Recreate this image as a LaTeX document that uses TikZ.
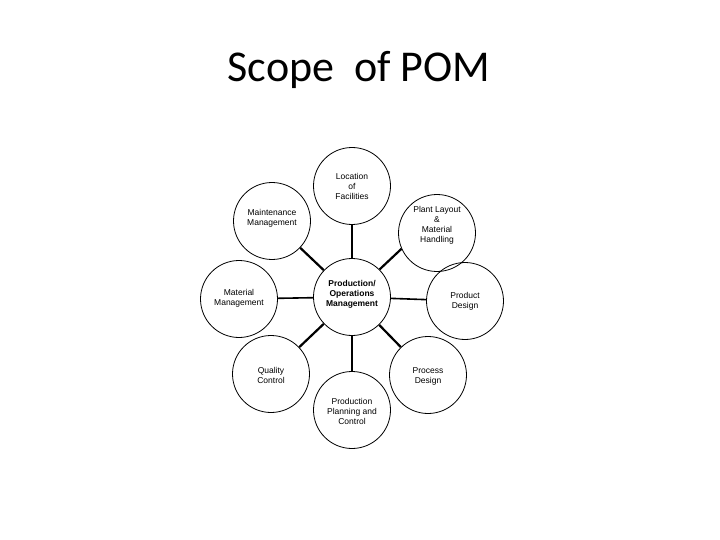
\documentclass[tikz,border=0pt]{standalone}
\usepackage{fontspec}
\setmainfont{Carlito}
\newfontfamily\arialf{Liberation Sans}
\begin{document}
\begin{tikzpicture}[x=1pt,y=-1pt,
  bub/.style={circle,draw=black,line width=0.8pt,minimum size=77pt,inner sep=0pt},
  txt/.style={align=center,font=\arialf\fontsize{8.5}{10}\selectfont,inner sep=0pt},
  btxt/.style={txt,font=\arialf\bfseries\fontsize{8.5}{10}\selectfont},
  conn/.style={line width=1.6pt},
  dconn/.style={line width=2.2pt}]
\useasboundingbox (0,0) rectangle (720,540);
\node[anchor=base,font=\fontsize{44}{50}\selectfont,inner sep=0pt] (title) at (359,82) {Scope\ \ of POM};
% circles
\node[bub] (c)   at (352,297) {};
\node[bub] (loc) at (352,186) {};
\node[bub] (pl)  at (437,233) {};
\node[bub] (pd)  at (465,301) {};
\node[bub] (prd) at (428,375) {};
\node[bub] (ppc) at (352,410) {};
\node[bub] (qc)  at (271,374) {};
\node[bub] (mat) at (239,299) {};
\node[bub] (mm)  at (272,221) {};
% texts
\node[btxt] (tc)   at (352,294) {Production/\\Operations\\Management};
\node[txt]  (tloc) at (352,186) {Location\\of\\Facilities};
\node[txt]  (tpl)  at (437,225) {Plant Layout\\\&\\Material\\Handling};
\node[txt]  (tpd)  at (465,301) {Product\\Design};
\node[txt]  (tprd) at (428,376) {Process\\Design};
\node[txt]  (tppc) at (352,411) {Production\\Planning and\\Control};
\node[txt]  (tqc)  at (271,375) {Quality\\Control};
\node[txt]  (tmat) at (239,298) {Material\\Management};
\node[txt]  (tmm)  at (272,218) {Maintenance\\Management};
% connectors
\draw[conn] (c) -- (loc);
\draw[conn] (c) -- (ppc);
\draw[conn] (c) -- (mat);
\draw[conn] (c) -- (pd);
\draw[dconn] (c.45) -- (pl.204);
\draw[dconn] (c) -- (prd);
\draw[dconn] (c) -- (qc);
\draw[dconn] (c) -- (mm);
\end{tikzpicture}
\end{document}
